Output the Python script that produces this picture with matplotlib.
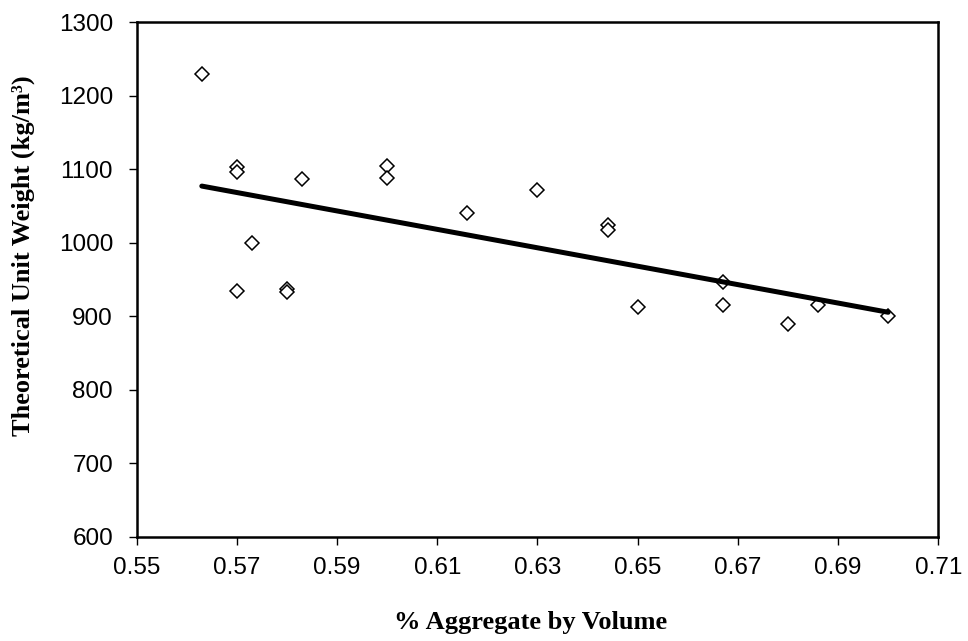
import matplotlib
matplotlib.use("Agg")
import matplotlib.pyplot as plt
import numpy as np

# % aggregate by volume vs theoretical unit weight (kg/m3)
agg_vol = [0.563, 0.570, 0.570, 0.573, 0.570, 0.580, 0.580, 0.583, 0.600, 0.600,
           0.616, 0.630, 0.644, 0.644, 0.650, 0.667, 0.667, 0.680, 0.686, 0.700]
unit_wt = [1230, 1103, 1096, 1000, 934, 937, 933, 1087, 1105, 1088,
           1040, 1072, 1024, 1018, 913, 947, 915, 890, 915, 900]

x_ticks = [0.55, 0.57, 0.59, 0.61, 0.63, 0.65, 0.67, 0.69, 0.71]
y_ticks = [600, 700, 800, 900, 1000, 1100, 1200, 1300]

fig = plt.figure(figsize=(9.68, 6.41), dpi=100)
ax = fig.add_axes([0.1412, 0.1628, 0.8281, 0.8024])

ax.plot(agg_vol, unit_wt, linestyle='none', marker='D', markersize=7.5,
        markerfacecolor='white', markeredgecolor='black', markeredgewidth=1.1, zorder=3)

# linear trendline over the data range
m, b = np.polyfit(agg_vol, unit_wt, 1)
xs = np.array([min(agg_vol), max(agg_vol)])
ax.plot(xs, m * xs + b, color='black', linewidth=3.6, solid_capstyle='round', zorder=4)

ax.set_xlim(0.55, 0.71)
ax.set_ylim(600, 1300)
ax.set_xticks(x_ticks)
ax.set_yticks(y_ticks)
ax.set_xticklabels(['%.2f' % t for t in x_ticks])
ax.tick_params(direction='out', length=6, width=1, labelsize=17.5)
ax.tick_params(axis='y', pad=11)
ax.tick_params(axis='x', pad=9)
for lab in ax.get_xticklabels() + ax.get_yticklabels():
    lab.set_family('Liberation Sans')
for s in ax.spines.values():
    s.set_linewidth(1.8)

fig.text(531 / 968, 1 - 622 / 641, '% Aggregate by Volume', family='Liberation Serif',
         fontweight='bold', fontsize=19, ha='center', va='center')
fig.text(23 / 968, 1 - 256 / 641, 'Theoretical Unit Weight (kg/m³)', family='Liberation Serif',
         fontweight='bold', fontsize=19, ha='center', va='center', rotation=90)

fig.savefig('out.png', dpi=100)
